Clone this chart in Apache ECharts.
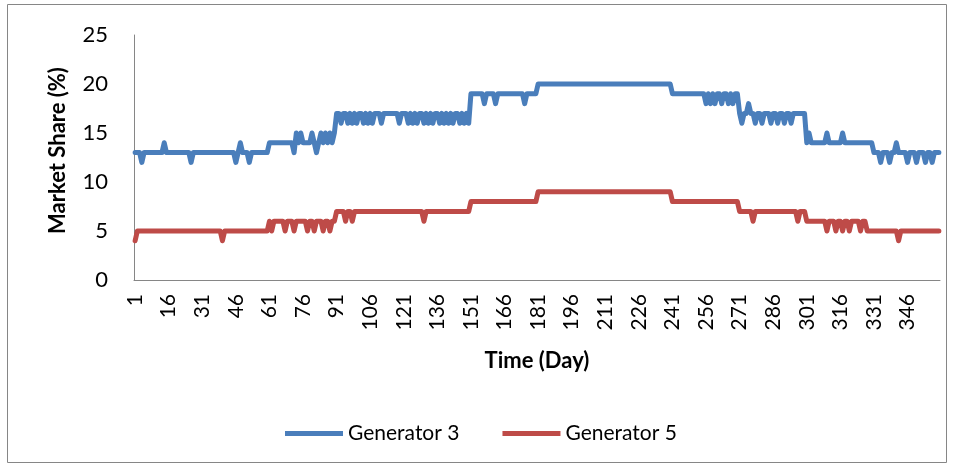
<!DOCTYPE html>
<html>
<head>
<meta charset="utf-8">
<script src="https://cdn.jsdelivr.net/npm/echarts@6/dist/echarts.min.js"></script>
<style>
  html, body { margin: 0; padding: 0; background: #fff; }
  #chart { width: 959px; height: 472px; }
</style>
</head>
<body>
<div id="chart"></div>
<script>
// Daily market share (%) over a 360-day year, one row per 30 days.
const generator3 = [
  13,13,13,12,13,13,13,13,13,13, 13,13,13,14,13,13,13,13,13,13, 13,13,13,13,13,12,13,13,13,13,
  13,13,13,13,13,13,13,13,13,13, 13,13,13,13,13,12,13,14,13,13, 13,12,13,13,13,13,13,13,13,13,
  14,14,14,14,14,14,14,14,14,14, 14,13,15,14,15,14,14,14,14,15, 14,13,14,15,14,15,14,15,14,15,
  17,17,16,17,17,16,17,16,17,16, 17,17,16,17,16,17,16,17,17,17, 16,17,17,17,17,17,17,17,16,17,
  17,17,16,17,16,17,16,17,17,16, 17,16,17,16,17,17,16,17,16,17, 16,17,16,17,17,16,17,16,17,16,
  19,19,19,19,19,19,18,19,19,19, 19,18,19,19,19,19,19,19,19,19, 19,19,19,19,18,19,19,19,19,19,
  20,20,20,20,20,20,20,20,20,20, 20,20,20,20,20,20,20,20,20,20, 20,20,20,20,20,20,20,20,20,20,
  20,20,20,20,20,20,20,20,20,20, 20,20,20,20,20,20,20,20,20,20, 20,20,20,20,20,20,20,20,20,20,
  19,19,19,19,19,19,19,19,19,19, 19,19,19,19,19,18,19,18,19,18, 19,19,18,19,19,18,19,18,19,19,
  17,16,17,17,18,17,17,16,17,17, 16,17,17,17,16,17,17,16,17,17, 16,17,17,16,17,17,17,17,17,17,
  14,15,14,14,14,14,14,14,14,15, 14,14,14,14,14,14,15,14,14,14, 14,14,14,14,14,14,14,14,14,14,
  13,13,13,12,13,13,13,12,13,13, 14,13,13,13,13,12,13,13,13,12, 13,13,13,12,13,13,12,13,13,13
];

const generator5 = [
  4,5,5,5,5,5,5,5,5,5, 5,5,5,5,5,5,5,5,5,5, 5,5,5,5,5,5,5,5,5,5,
  5,5,5,5,5,5,5,5,5,4, 5,5,5,5,5,5,5,5,5,5, 5,5,5,5,5,5,5,5,5,5,
  6,5,6,6,6,6,6,5,6,6, 6,5,6,6,6,6,6,5,6,6, 5,6,6,6,5,6,6,5,6,6,
  7,7,7,7,6,7,7,6,7,7, 7,7,7,7,7,7,7,7,7,7, 7,7,7,7,7,7,7,7,7,7,
  7,7,7,7,7,7,7,7,7,6, 7,7,7,7,7,7,7,7,7,7, 7,7,7,7,7,7,7,7,7,7,
  8,8,8,8,8,8,8,8,8,8, 8,8,8,8,8,8,8,8,8,8, 8,8,8,8,8,8,8,8,8,8,
  9,9,9,9,9,9,9,9,9,9, 9,9,9,9,9,9,9,9,9,9, 9,9,9,9,9,9,9,9,9,9,
  9,9,9,9,9,9,9,9,9,9, 9,9,9,9,9,9,9,9,9,9, 9,9,9,9,9,9,9,9,9,9,
  8,8,8,8,8,8,8,8,8,8, 8,8,8,8,8,8,8,8,8,8, 8,8,8,8,8,8,8,8,8,8,
  7,7,7,7,7,7,6,7,7,7, 7,7,7,7,7,7,7,7,7,7, 7,7,7,7,7,7,6,7,7,7,
  6,6,6,6,6,6,6,6,6,5, 6,6,6,5,6,6,5,6,6,5, 6,6,6,6,5,6,6,5,5,5,
  5,5,5,5,5,5,5,5,5,5, 5,4,5,5,5,5,5,5,5,5, 5,5,5,5,5,5,5,5,5,5
];

// Day numbers along the time axis
const days = generator3.map((_, i) => String(i + 1));

const seriesNames = ['Generator 3', 'Generator 5'];
const seriesColors = ['#4A7EBB', '#BE4B48'];

const FONT = 'Lato, "Open Sans", sans-serif';
const AXIS_GREY = '#868686';

const chart = echarts.init(document.getElementById('chart'), null, { renderer: 'canvas' });

chart.setOption({
  animation: false,
  backgroundColor: '#ffffff',
  textStyle: { fontFamily: FONT, color: '#000' },
  graphic: [{
    type: 'rect',
    shape: { x: 7.5, y: 4.5, width: 939, height: 458 },
    style: { fill: 'none', stroke: AXIS_GREY, lineWidth: 1 },
    silent: true
  }],
  grid: { left: 134, right: 19, top: 35, bottom: 192, containLabel: false },
  legend: {
    data: seriesNames,
    left: 285,
    top: 423,
    padding: 0,
    icon: 'rect',
    itemWidth: 58,
    itemHeight: 5,
    itemGap: 43,
    textStyle: { fontFamily: FONT, fontSize: 21, color: '#000' }
  },
  xAxis: {
    type: 'category',
    data: days,
    boundaryGap: true,
    name: 'Time (Day)',
    nameLocation: 'middle',
    nameGap: 70,
    nameTextStyle: { fontFamily: FONT, fontSize: 22, fontWeight: 'bold', color: '#000' },
    axisLine: { show: true, lineStyle: { color: AXIS_GREY, width: 1 } },
    axisTick: { show: false },
    axisLabel: {
      interval: 14,
      rotate: 90,
      margin: 14,
      fontFamily: FONT,
      fontSize: 21,
      color: '#000'
    },
    splitLine: { show: false }
  },
  yAxis: {
    type: 'value',
    min: 0,
    max: 25,
    interval: 5,
    name: 'Market Share (%)',
    nameLocation: 'middle',
    nameGap: 65,
    nameTextStyle: {
      fontFamily: FONT, fontSize: 22, fontWeight: 'bold', color: '#000',
      padding: [0, 0, 0, 14]
    },
    axisLine: { show: true, lineStyle: { color: AXIS_GREY, width: 1 } },
    axisTick: { show: false },
    axisLabel: { margin: 26, fontFamily: FONT, fontSize: 22, color: '#000' },
    splitLine: { show: false }
  },
  series: [
    {
      name: seriesNames[0],
      type: 'line',
      data: generator3,
      symbol: 'none',
      color: seriesColors[0],
      lineStyle: { width: 5, color: seriesColors[0], cap: 'round', join: 'round' }
    },
    {
      name: seriesNames[1],
      type: 'line',
      data: generator5,
      symbol: 'none',
      color: seriesColors[1],
      lineStyle: { width: 5, color: seriesColors[1], cap: 'round', join: 'round' }
    }
  ]
});
</script>
</body>
</html>
